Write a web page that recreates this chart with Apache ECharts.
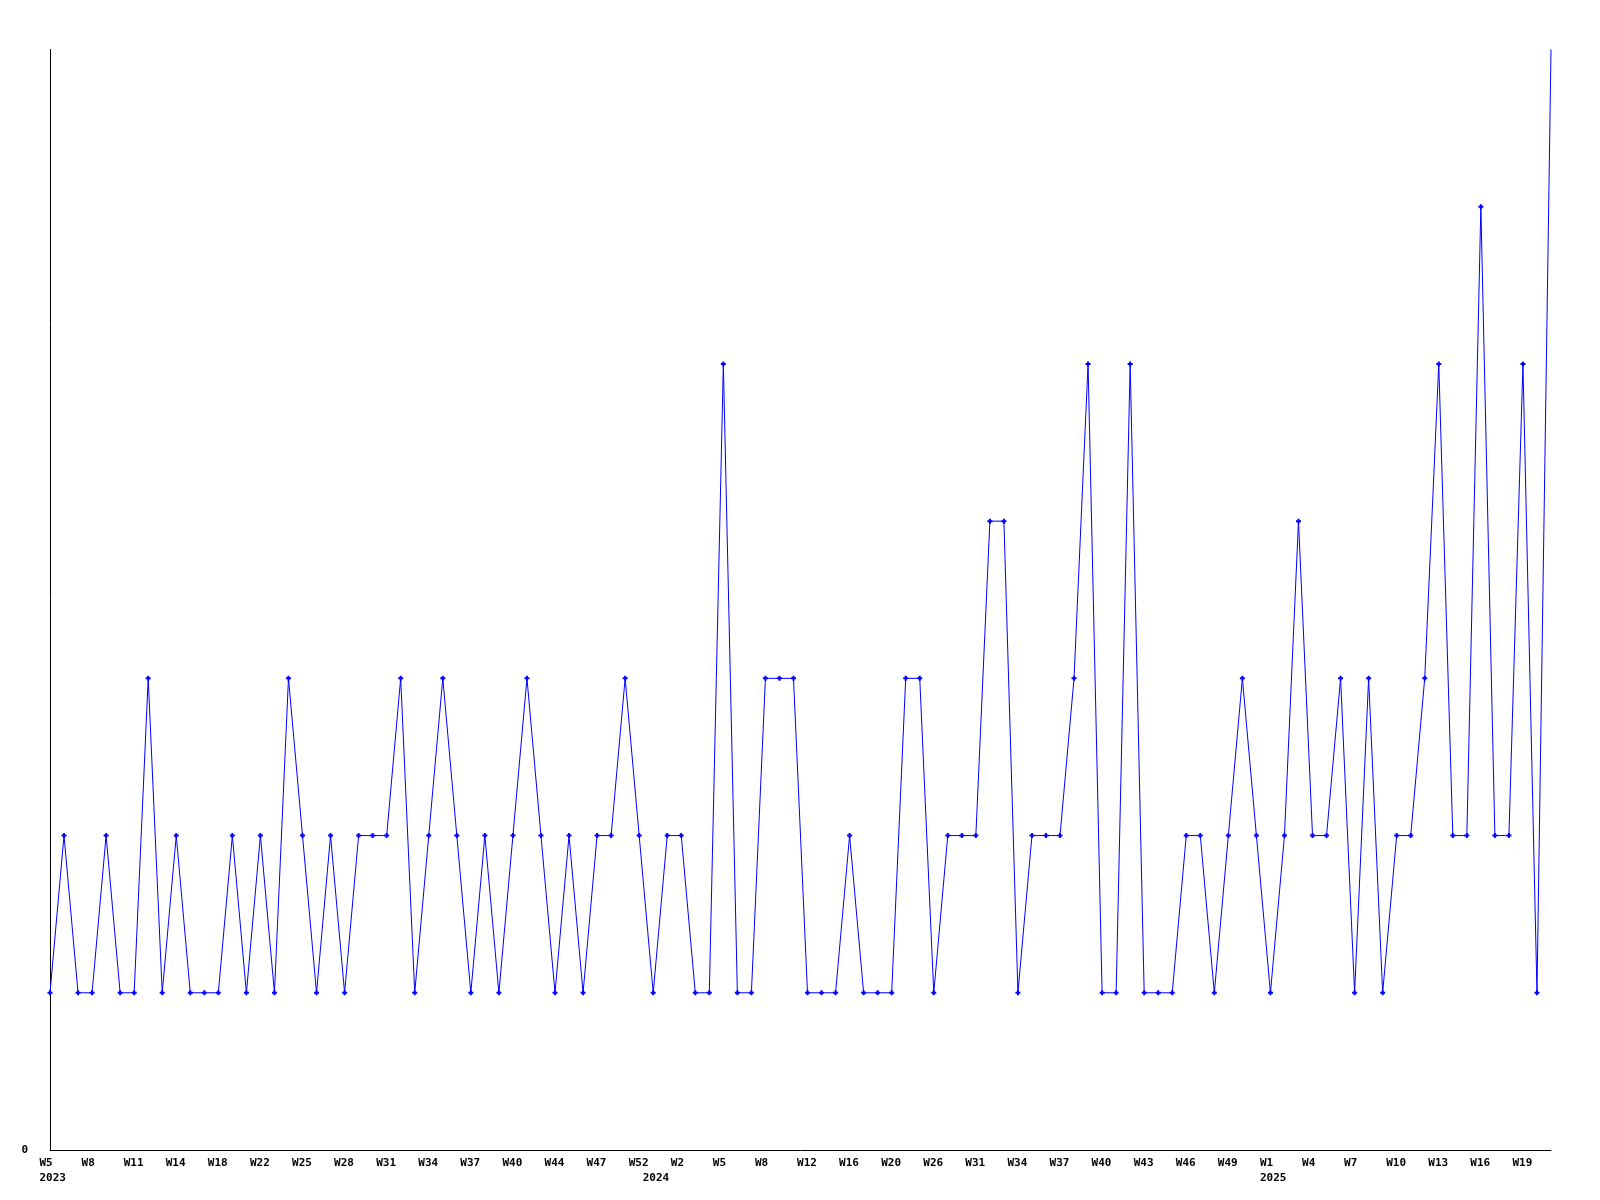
<!DOCTYPE html>
<html>
<head>
<meta charset="utf-8">
<script src="https://cdn.jsdelivr.net/npm/echarts@6/dist/echarts.min.js"></script>
<style>
html,body{margin:0;padding:0;background:#fff;}
#chart{width:1600px;height:1200px;}
</style>
</head>
<body>
<div id="chart"></div>
<script>
// Week categories (one per point)
const weeks = [
  'W5','W6','W7','W8','W9','W10','W11','W12','W13','W14','W15','W16','W18','W19','W20','W22','W23','W24',
  'W25','W26','W27','W28','W29','W30','W31','W32','W33','W34','W35','W36','W37','W38','W39','W40','W41','W43',
  'W44','W45','W46','W47','W49','W50','W52',
  'W0','W1','W2','W3','W4','W5','W6','W7','W8','W9','W10','W12','W13','W14','W16','W17','W18','W20','W22','W24',
  'W26','W28','W29','W31','W32','W33','W34','W35','W36','W37','W38','W39','W40','W41','W42','W43','W44','W45',
  'W46','W47','W48','W49','W50','W51',
  'W1','W2','W3','W4','W5','W6','W7','W8','W9','W10','W11','W12','W13','W14','W15','W16','W17','W18','W19','W20','W21'
];
// Values per week
const values = [
  1,2,1,1,2,1,1,3,1,2,1,1,1,2,1,2,1,3,2,1,2,1,2,2,2,3,1,2,3,2,1,2,1,2,3,2,1,2,1,2,2,3,2,
  1,2,2,1,1,5,1,1,3,3,3,1,1,1,2,1,1,1,3,3,1,2,2,2,4,4,1,2,2,2,3,5,1,1,5,1,1,1,2,2,1,2,3,2,
  1,2,4,2,2,3,1,3,1,2,2,3,5,2,2,6,2,2,5,1,7
];
// Year labels and the index of the first point of each year
const yearLabels = ['2023','2024','2025'];
const yearStartIndex = [0, 43, 87];
// y-axis tick labels
const yTickValues = [0];

const chart = echarts.init(document.getElementById('chart'), null, {renderer:'canvas'});
const labelFont = {fontFamily:'DejaVu Sans Mono', fontWeight:'bold', fontSize:11, color:'#000', lineHeight:11};
const lastIdx = values.length - 1;
chart.setOption({
  animation:false,
  backgroundColor:'#ffffff',
  grid:{left:50, right:49, top:49.5, bottom:50, containLabel:false},
  xAxis:[{
    type:'category', data:weeks, boundaryGap:false, position:'bottom',
    axisLine:{show:true, lineStyle:{color:'#000', width:1}},
    axisTick:{show:false},
    splitLine:{show:false},
    axisLabel:Object.assign({interval:2, margin:8, align:'left', padding:[0,0,0,-10.5]}, labelFont)
  },{
    type:'category', data:weeks, boundaryGap:false, position:'bottom',
    axisLine:{show:false}, axisTick:{show:false}, splitLine:{show:false},
    axisLabel:Object.assign({
      interval:(idx)=>yearStartIndex.indexOf(idx) >= 0,
      formatter:(v, idx)=>{const k = yearStartIndex.indexOf(idx); return k >= 0 ? yearLabels[k] : '';},
      margin:23, align:'left', padding:[0,0,0,-10.5]
    }, labelFont)
  }],
  yAxis:{
    type:'value', min:0, max:7, interval:7,
    axisLine:{show:true, lineStyle:{color:'#000', width:1}},
    axisTick:{show:false},
    splitLine:{show:false},
    axisLabel:Object.assign({margin:22, formatter:(v)=> yTickValues.indexOf(v) >= 0 ? String(v) : ''}, labelFont)
  },
  series:[{
    type:'line', xAxisIndex:0, data:values,
    symbol:(val, params)=> params.dataIndex === lastIdx ? 'none' : 'path://M1.5,0H3.5V1.5H5V3.5H3.5V5H1.5V3.5H0V1.5H1.5Z',
    symbolSize:5, showAllSymbol:true,
    lineStyle:{color:'#0000ff', width:1},
    itemStyle:{color:'#0000ff'},
    clip:false
  }]
});
</script>
</body>
</html>
